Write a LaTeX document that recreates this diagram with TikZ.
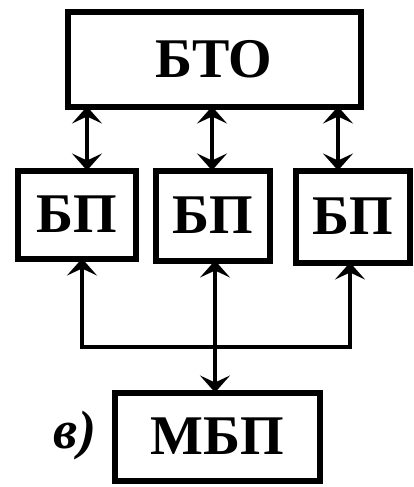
\documentclass[tikz,border=0pt]{standalone}
\usepackage{fontspec}
\setmainfont{Liberation Serif}
\usetikzlibrary{arrows.meta}
\begin{document}
\begin{tikzpicture}[x=1pt,y=-1pt,
  box/.style={draw,line width=6pt,inner sep=0pt,font=\fontsize{56}{56}\selectfont\bfseries},
  conn/.style={line width=4.5pt,{Stealth[length=17pt,width=30pt,inset=7pt]}-{Stealth[length=17pt,width=30pt,inset=7pt]}}]
\useasboundingbox (0,0) rectangle (413,487);
\node[box,minimum width=293pt,minimum height=94pt] (BTO) at (214,59.5) {БТО};
\node[box,minimum width=118pt,minimum height=88pt] (BP1) at (76.5,214.5) {БП};
\node[box,minimum width=114pt,minimum height=90pt] (BP2) at (212.5,215.5) {БП};
\node[box,minimum width=114pt,minimum height=92pt] (BP3) at (352.5,216.5) {БП};
\node[box,minimum width=205pt,minimum height=88pt] (MBP) at (217,436.5) {МБП};
\node[font=\fontsize{54}{54}\selectfont\bfseries\itshape] (lab) at (75,436) {в)};
\coordinate (t1) at (87,0);
\coordinate (t2) at (212,0);
\coordinate (t3) at (338,0);
\coordinate (busL) at (82,347);
\coordinate (busM) at (215,347);
\coordinate (busR) at (350,347);
\draw[conn] ([yshift=3pt]BTO.south -| t1) -- ([yshift=-3pt]BP1.north -| t1);
\draw[conn] ([yshift=3pt]BTO.south -| t2) -- ([yshift=-3pt]BP2.north -| t2);
\draw[conn] ([yshift=3pt]BTO.south -| t3) -- ([yshift=-3pt]BP3.north -| t3);
\draw[conn] ([yshift=3pt]BP1.south -| busL) -- (busL) -- (busR) -- ([yshift=3pt]BP3.south -| busR);
\draw[conn] ([yshift=3pt]BP2.south -| busM) -- ([yshift=-3pt]MBP.north -| busM);
\end{tikzpicture}
\end{document}
